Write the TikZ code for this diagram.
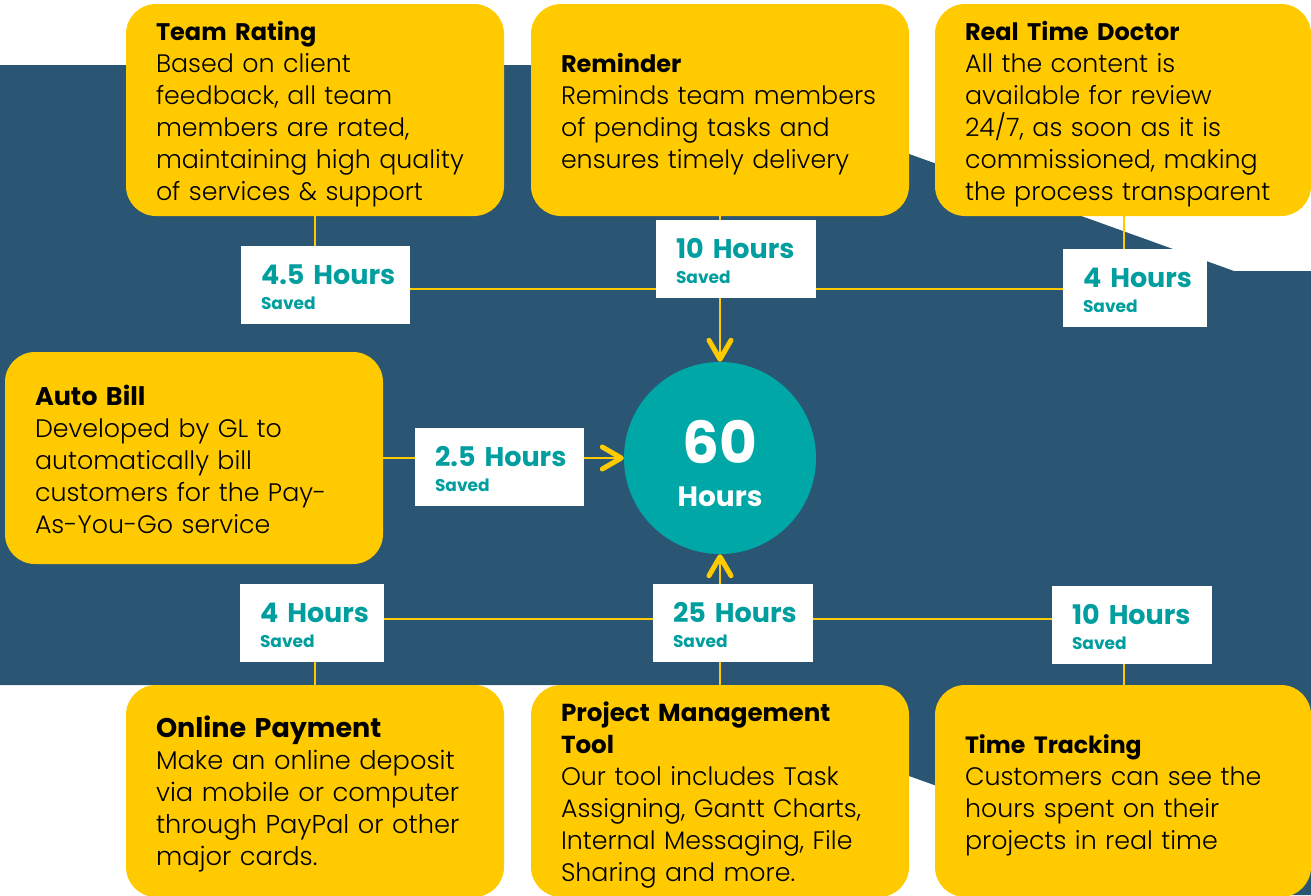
\documentclass[tikz,border=0pt]{standalone}
\usepackage{fontspec}
\setmainfont{Poppins}
\newfontfamily\bodyfont{Poppins Light}
\usetikzlibrary{arrows.meta}
\definecolor{bandblue}{HTML}{2A5673}
\definecolor{cardyellow}{HTML}{FFCB00}
\definecolor{hubteal}{HTML}{00A7A7}
\definecolor{labelteal}{HTML}{009E9E}
\tikzset{
  cardbase/.style={fill=cardyellow,rounded corners=30pt,minimum height=212pt,inner xsep=30pt,inner ysep=0pt,
    text width=318pt,align=left,text=black,font=\bodyfont\fontsize{25.3}{32}\selectfont},
  lifted/.style={execute at begin node={\rule{0pt}{#1}}},
  card/.style={cardbase,lifted=27pt},
  savedbox/.style={fill=white,inner xsep=20pt,inner ysep=0pt,minimum height=78pt,align=left,text=labelteal,
    font=\bfseries\fontsize{27}{25}\selectfont,lifted=24pt},
  wire/.style={draw=cardyellow,line width=2.2pt},
  arrowwire/.style={wire,line width=2.5pt,-{Straight Barb[round,length=19pt,width=22pt,line width=5pt]}},
}
\newcommand{\savedtext}[1]{\mbox{#1}\\{\fontsize{17}{25}\selectfont Saved}}
\newcommand{\hd}[2][24]{{\normalfont\bfseries\fontsize{#1}{32}\selectfont #2}}
\begin{document}
\begin{tikzpicture}[x=1pt,y=-1pt]
\useasboundingbox (0,0) rectangle (1311,895);
\fill[bandblue] (0,65) -- (662,65) -- (1234,271) -- (1311,271) -- (1311,895) -- (1240,895) -- (656,685) -- (0,685) -- cycle;
% cards
\node[card] (team) at (315,110) {\hd{Team Rating}\\Based on client\\feedback, all team\\members are rated,\\maintaining high quality\\of services \& support};
\node[card] (remind) at (720,110) {\hd{Reminder}\\Reminds team members\\of pending tasks and\\ensures timely delivery};
\node[card,text width=316pt] (doctor) at (1123,110) {\hd{Real Time Doctor}\\All the content is\\available for review\\24/7, as soon as it is\\commissioned, making\\the process transparent};
\node[cardbase,lifted=23pt] (bill) at (194,458) {\hd[25.5]{Auto Bill}\\Developed by GL to\\automatically bill\\customers for the Pay-\\As-You-Go service};
\node[card,font=\bodyfont\fontsize{25.7}{32}\selectfont] (pay) at (315,791) {\hd[27]{Online Payment}\\Make an online deposit\\via mobile or computer\\through PayPal or other\\major cards.};
\node[card] (pm) at (720,791) {\hd[24.6]{Project Management}\\\hd[24.6]{Tool}\\Our tool includes Task\\Assigning, Gantt Charts,\\Internal Messaging, File\\Sharing and more.};
\node[card,text width=316pt] (track) at (1123,791) {\hd[23.6]{Time Tracking}\\Customers can see the\\hours spent on their\\projects in real time};
% hub
\node[circle,fill=hubteal,minimum size=192pt,inner sep=0pt] (hub) at (720,458) {};
\node[text=white,font=\bfseries\fontsize{58}{58}\selectfont,inner sep=0pt] (sixty) at (720,442) {60};
\node[text=white,font=\bfseries\fontsize{28}{28}\selectfont,inner sep=0pt] (hrs) at (720,497) {Hours};
% saved boxes
\node[savedbox,minimum width=169pt,text width=129pt] (s1) at (325.5,285) {\savedtext{4.5 Hours}};
\node[savedbox,minimum width=160pt,text width=120pt] (s2) at (736,259) {\savedtext{10 Hours}};
\node[savedbox,minimum width=144pt,text width=104pt] (s3) at (1135,288) {\savedtext{4 Hours}};
\node[savedbox,minimum width=169pt,text width=129pt] (s4) at (499.5,467) {\savedtext{2.5 Hours}};
\node[savedbox,minimum width=144pt,text width=104pt] (s5) at (312,623) {\savedtext{4 Hours}};
\node[savedbox,minimum width=160pt,text width=120pt] (s6) at (733,623) {\savedtext{25 Hours}};
\node[savedbox,minimum width=160pt,text width=120pt] (s7) at (1132,625) {\savedtext{10 Hours}};
% bus coordinates
\coordinate (upbus) at (720,289);
\coordinate (lowbus) at (720,619);
\coordinate (midbus) at (0,458);
% connectors
\draw[wire] (team.south) -- (team.south |- s1.north);
\draw[wire] (remind.south) -- (remind.south |- s2.north);
\draw[wire] ([xshift=1pt]doctor.south) -- ([xshift=1pt]doctor.south |- s3.north);
\draw[wire] (s1.east |- upbus) -- (s2.west |- upbus);
\draw[wire] (s2.east |- upbus) -- (s3.west |- upbus);
\draw[arrowwire] (hub.north |- s2.south) -- (hub.north);
\draw[wire] (bill.east |- midbus) -- (s4.west |- midbus);
\draw[arrowwire] (s4.east |- midbus) -- (hub.west);
\draw[wire] (pay.north) -- (pay.north |- s5.south);
\draw[wire] (pm.north) -- (pm.north |- s6.south);
\draw[wire] ([xshift=1pt]track.north) -- ([xshift=1pt]track.north |- s7.south);
\draw[wire] (s5.east |- lowbus) -- (s6.west |- lowbus);
\draw[wire] (s6.east |- lowbus) -- (s7.west |- lowbus);
\draw[arrowwire] (hub.south |- s6.north) -- (hub.south);
\end{tikzpicture}
\end{document}
